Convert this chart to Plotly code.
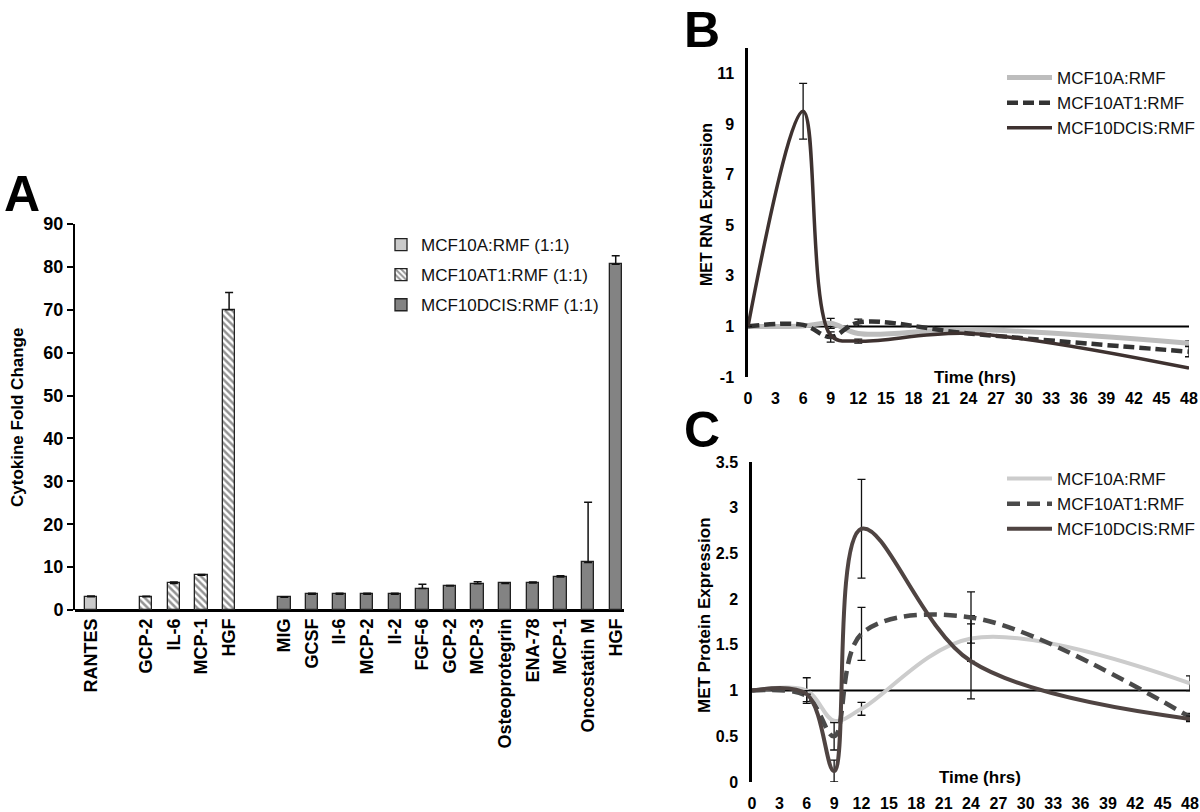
import plotly.graph_objects as go

# ---------------- Panel A data ----------------
a_labels = ["RANTES"]
a_values = [3.1]
a_err = [0.15]

at1_labels = ["GCP-2", "IL-6", "MCP-1", "HGF"]
at1_values = [3.1, 6.2, 8.1, 70.0]
at1_err = [0.1, 0.3, 0.2, 4.0]

dcis_labels = ["MIG", "GCSF", "Il-6", "MCP-2", "Il-2", "FGF-6", "GCP-2", "MCP-3",
               "Osteoprotegrin", "ENA-78", "MCP-1", "Oncostatin M", "HGF"]
dcis_values = [3.0, 3.7, 3.7, 3.7, 3.7, 5.0, 5.6, 6.1, 6.2, 6.3, 7.7, 11.1, 80.6]
dcis_err = [0.1, 0.2, 0.2, 0.2, 0.2, 1.0, 0.1, 0.5, 0.1, 0.2, 0.3, 14.0, 2.0]

# slot positions (one empty slot between groups)
a_pos = list(range(len(a_labels)))
at1_pos = [len(a_labels) + 1 + i for i in range(len(at1_labels))]
dcis_pos = [at1_pos[-1] + 2 + i for i in range(len(dcis_labels))]

# ---------------- Panel B / C data ----------------
time_pts = [0, 6, 9, 12, 24, 48]
time_ticks = list(range(0, 49, 3))

rna_ticks = [-1, 1, 3, 5, 7, 9, 11]
rna_a = [1.0, 1.02, 1.12, 0.72, 0.88, 0.33]
rna_a_err = [0, 0, 0.2, 0, 0, 0.1]
rna_at1 = [1.0, 1.06, 0.58, 1.15, 0.72, 0.0]
rna_at1_err = [0, 0, 0.2, 0.14, 0, 0.2]
rna_dcis = [1.0, 9.5, 0.65, 0.42, 0.72, -0.65]
rna_dcis_err = [0, 1.1, 0, 0.08, 0, 0]

prot_ticks = [0, 0.5, 1, 1.5, 2, 2.5, 3, 3.5]
prot_a = [1.0, 1.0, 0.67, 0.8, 1.57, 1.08]
prot_a_err = [0, 0.14, 0, 0.07, 0.25, 0.08]
prot_at1 = [1.0, 0.94, 0.5, 1.62, 1.8, 0.71]
prot_at1_err = [0, 0.06, 0.15, 0.29, 0.28, 0.04]
prot_dcis = [1.0, 0.96, 0.12, 2.77, 1.32, 0.69]
prot_dcis_err = [0, 0, 0.12, 0.54, 0.41, 0.03]

BASELINE = 1

W, H = 1200, 812
FONT = "Liberation Sans, Arial, sans-serif"


def px(x):
    return x / W


def py(y):
    return 1 - y / H


fig = go.Figure()

# ---- Panel A bars ----
bar_w = 0.45
err_style = dict(type="data", symmetric=False, color="#111", thickness=1.5, width=4)

fig.add_trace(go.Bar(
    x=a_pos, y=a_values, width=bar_w, name="MCF10A:RMF (1:1)",
    marker=dict(color="#cacaca", line=dict(color="#222", width=1.3)),
    error_y=dict(array=a_err, arrayminus=[0] * len(a_err), **err_style),
    xaxis="x", yaxis="y", legend="legend", legendgroup="a1",
))
fig.add_trace(go.Bar(
    x=at1_pos, y=at1_values, width=bar_w, name="MCF10AT1:RMF (1:1)",
    marker=dict(color="white", line=dict(color="#222", width=1.3),
                pattern=dict(shape="\\", fgcolor="#2a2a2a", bgcolor="white", size=5, solidity=0.5)),
    error_y=dict(array=at1_err, arrayminus=[0] * len(at1_err), **err_style),
    xaxis="x", yaxis="y", legend="legend", legendgroup="a2",
))
fig.add_trace(go.Bar(
    x=dcis_pos, y=dcis_values, width=bar_w, name="MCF10DCIS:RMF (1:1)",
    marker=dict(color="#838383", line=dict(color="#222", width=1.3)),
    error_y=dict(array=dcis_err, arrayminus=[0] * len(dcis_err), **err_style),
    xaxis="x", yaxis="y", legend="legend", legendgroup="a3",
))

# ---- Panel B / C lines ----
line_err = dict(type="data", color="#111", thickness=1.3, width=4)


def add_line(x, y, err, name, color, width, dash, xa, ya, leg):
    fig.add_trace(go.Scatter(
        x=x, y=y, mode="lines", name=name,
        line=dict(color=color, width=width, dash=dash, shape="spline", smoothing=1),
        error_y=dict(array=err, **line_err),
        xaxis=xa, yaxis=ya, legend=leg,
    ))


add_line(time_pts, rna_a, rna_a_err, "MCF10A:RMF", "#bdbdbd", 5, "solid", "x2", "y2", "legend2")
add_line(time_pts, rna_at1, rna_at1_err, "MCF10AT1:RMF", "#333333", 4.5, "11px,5px", "x2", "y2", "legend2")
add_line(time_pts, rna_dcis, rna_dcis_err, "MCF10DCIS:RMF", "#3e3230", 3.5, "solid", "x2", "y2", "legend2")

add_line(time_pts, prot_a, prot_a_err, "MCF10A:RMF", "#cccccc", 4, "solid", "x3", "y3", "legend3")
add_line(time_pts, prot_at1, prot_at1_err, "MCF10AT1:RMF", "#4a4a4a", 4.5, "13px,7px", "x3", "y3", "legend3")
add_line(time_pts, prot_dcis, prot_dcis_err, "MCF10DCIS:RMF", "#4f4442", 4, "solid", "x3", "y3", "legend3")

# baseline (horizontal axis crossing at 1) in B and C
for xr, yr in (("x2", "y2"), ("x3", "y3")):
    fig.add_shape(type="line", xref=xr, yref=yr, x0=time_ticks[0], x1=time_ticks[-1],
                  y0=BASELINE, y1=BASELINE, line=dict(color="black", width=2), layer="below")

tick_font_a = dict(family=FONT, size=18, color="black", weight="bold")
tick_font_bc = dict(family=FONT, size=16, color="black", weight="bold")

fig.update_layout(
    width=W, height=H, margin=dict(l=0, r=0, t=0, b=0, autoexpand=False),
    paper_bgcolor="white", plot_bgcolor="rgba(0,0,0,0)",
    font=dict(family=FONT, color="black"),
    barmode="overlay", bargap=0,
    xaxis=dict(
        domain=[px(75), px(624)], range=[-0.58, 19.3],
        tickmode="array", tickvals=a_pos + at1_pos + dcis_pos,
        ticktext=a_labels + at1_labels + dcis_labels,
        tickangle=-90, tickfont=dict(family=FONT, size=18, color="black", weight="bold"),
        showgrid=False, zeroline=False, showline=False, ticks="",
        ticklabelstandoff=4, anchor="y", automargin=False,
    ),
    yaxis=dict(
        domain=[py(610), py(224)], range=[0, 90], tickvals=list(range(0, 91, 10)),
        tickfont=tick_font_a, showgrid=False, zeroline=True, zerolinecolor="black",
        zerolinewidth=3, showline=True, linecolor="black", linewidth=2,
        ticks="outside", ticklen=6, tickwidth=2, tickcolor="black", anchor="x",
        automargin=False,
    ),
    xaxis2=dict(
        domain=[px(748), px(1189)], range=[0, 48], tickvals=time_ticks,
        tickfont=tick_font_bc, showgrid=False, zeroline=False, showline=False,
        ticks="", ticklabelstandoff=10, anchor="y2", automargin=False,
    ),
    yaxis2=dict(
        domain=[py(377), py(48)], range=[-1, 12], tickvals=rna_ticks,
        ticktext=[str(v) for v in rna_ticks],
        tickfont=tick_font_bc, showgrid=False, zeroline=False, showline=True,
        linecolor="black", linewidth=2.5, ticks="", ticklabelstandoff=8, anchor="x2",
        automargin=False,
    ),
    xaxis3=dict(
        domain=[px(752), px(1190)], range=[0, 48], tickvals=time_ticks,
        tickfont=tick_font_bc, showgrid=False, zeroline=False, showline=False,
        ticks="", ticklabelstandoff=10, anchor="y3", automargin=False,
    ),
    yaxis3=dict(
        domain=[py(782), py(462)], range=[0, 3.5], tickvals=prot_ticks,
        ticktext=[f"{v:g}" for v in prot_ticks],
        tickfont=tick_font_bc, showgrid=False, zeroline=False, showline=True,
        linecolor="black", linewidth=2.5, ticks="", ticklabelstandoff=8, anchor="x3",
        automargin=False,
    ),
    legend=dict(x=px(381), y=py(227), xanchor="left", yanchor="top",
                font=dict(family=FONT, size=17, color="#111"), bgcolor="rgba(0,0,0,0)",
                tracegroupgap=5),
    legend2=dict(x=px(1002), y=py(60), xanchor="left", yanchor="top", itemwidth=45,
                 font=dict(family=FONT, size=17, color="#111"), bgcolor="rgba(0,0,0,0)"),
    legend3=dict(x=px(1002), y=py(461), xanchor="left", yanchor="top", itemwidth=45,
                 font=dict(family=FONT, size=17, color="#111"), bgcolor="rgba(0,0,0,0)"),
    showlegend=True,
)

annotations = [
    dict(text="A", x=px(22), y=py(194)),
    dict(text="B", x=px(702), y=py(30)),
    dict(text="C", x=px(702), y=py(430)),
]
for a in annotations:
    a.update(xref="paper", yref="paper", showarrow=False, xanchor="center", yanchor="middle",
             font=dict(family=FONT, size=50, color="black", weight="bold"))

titles = [
    dict(text="Cytokine Fold Change", x=px(17), y=py(418), textangle=-90, size=17),
    dict(text="MET RNA Expression", x=px(706), y=py(205), textangle=-90, size=16),
    dict(text="MET Protein Expression", x=px(704), y=py(615), textangle=-90, size=17),
    dict(text="Time (hrs)", x=px(975), y=py(377), textangle=0, size=17),
    dict(text="Time (hrs)", x=px(980), y=py(777), textangle=0, size=17),
]
for t in titles:
    size = t.pop("size")
    t.update(xref="paper", yref="paper", showarrow=False, xanchor="center", yanchor="middle",
             font=dict(family=FONT, size=size, color="black", weight="bold"))

fig.update_layout(annotations=annotations + titles)

fig.write_html(
    "out.html",
    config={"displayModeBar": False},
    post_script="document.body.style.margin='0';document.body.style.overflow='hidden';",
)
